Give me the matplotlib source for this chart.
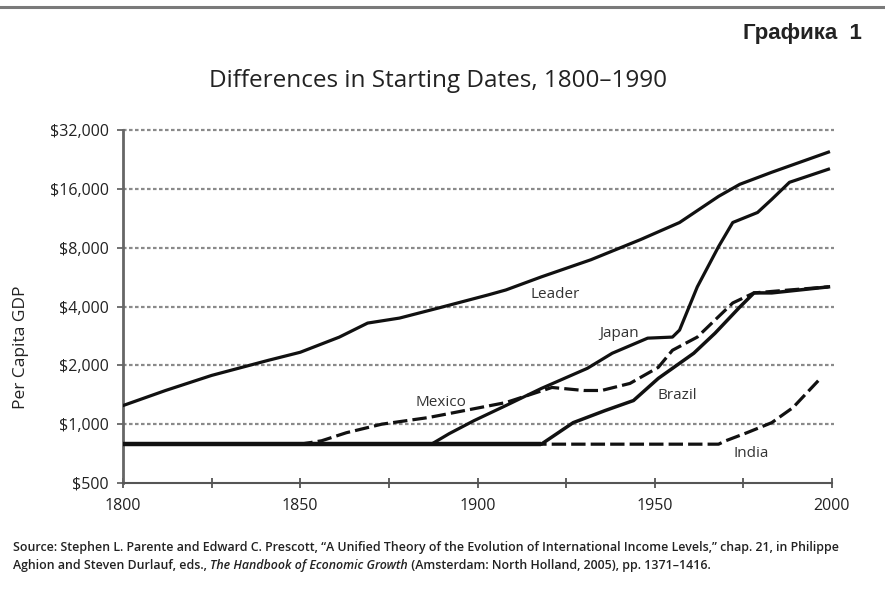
import matplotlib
matplotlib.use("Agg")
import matplotlib.pyplot as plt
from matplotlib.lines import Line2D
from matplotlib.ticker import FixedLocator, FuncFormatter

plt.rcParams['font.family'] = ['Open Sans', 'DejaVu Sans']

# values (per capita GDP, log scale)
leader_years = [1800, 1812, 1825, 1841, 1850, 1861, 1869, 1878, 1889, 1903, 1908, 1918, 1932, 1946, 1957, 1968, 1974, 1983, 1999]
leader_gdp = [1245, 1487, 1776, 2122, 2333, 2788, 3290, 3490, 3930, 4585, 4860, 5670, 6940, 8800, 10760, 14640, 16880, 19450, 24660]

japan_years = [1800, 1887, 1892, 1899, 1908, 1918, 1931, 1938, 1948, 1955, 1957, 1962, 1968, 1972, 1979, 1983, 1988, 1999]
japan_gdp = [790, 790, 894, 1042, 1245, 1523, 1931, 2306, 2755, 2790, 3030, 5040, 8100, 10760, 12110, 14130, 17280, 20160]

mexico_years = [1800, 1850, 1856, 1863, 1873, 1886, 1889, 1908, 1921, 1930, 1935, 1943, 1951, 1955, 1962, 1972, 1978, 1988, 1999]
mexico_gdp = [790, 790, 822, 904, 1000, 1080, 1106, 1290, 1541, 1487, 1487, 1616, 1953, 2389, 2790, 4170, 4695, 4860, 5040]

brazil_years = [1800, 1918, 1927, 1936, 1944, 1951, 1961, 1967, 1974, 1978, 1983, 1999]
brazil_gdp = [790, 790, 1018, 1174, 1321, 1715, 2306, 2920, 3976, 4695, 4695, 5040]

india_years = [1800, 1918, 1968, 1970, 1976, 1983, 1989, 1997]
india_gdp = [790, 790, 790, 822, 904, 1018, 1216, 1735]

y_ticks = [500, 1000, 2000, 4000, 8000, 16000, 32000]
x_major = [1800, 1850, 1900, 1950, 2000]
x_minor = [1825, 1875, 1925, 1975]

# label text and where it sits (year, value)
series_labels = ['Leader', 'Japan', 'Mexico', 'Brazil', 'India']
label_x = [1921.9, 1939.9, 1889.7, 1956.3, 1977.2]
label_y = [4582, 2894, 1297, 1394, 704]

fig = plt.figure(figsize=(8.85, 5.9), dpi=100)
ax = fig.add_axes([123/885, 1 - 483/590, (832 - 123)/885, (483 - 130)/590])

ax.set_yscale('log', base=2)
ax.set_ylim(500, 32000)
ax.set_xlim(1800, 2000)

# dotted guide lines
ax.hlines(y_ticks[1:], 1800, 2000.5, colors='#8a8a8a', linestyles=(0, (1.6, 1.1)),
          linewidth=1.6, zorder=1, clip_on=False)

lw = 2.3
ax.plot(mexico_years, mexico_gdp, color='#111', lw=lw, dashes=(4.5, 1.6), zorder=3)
ax.plot(india_years, india_gdp, color='#111', lw=lw, dashes=(4.5, 1.6), zorder=3)
ax.plot(leader_years, leader_gdp, color='#111', lw=lw, zorder=4)
ax.plot(japan_years, japan_gdp, color='#111', lw=lw, zorder=4)
ax.plot(brazil_years, brazil_gdp, color='#111', lw=2.5, zorder=4)
# common starting level is drawn heavier in the original
ax.plot(brazil_years[:2], brazil_gdp[:2], color='#111', lw=3.2, zorder=4, solid_capstyle='butt')

for s, lx, ly in zip(series_labels, label_x, label_y):
    ax.text(lx, ly, s, fontsize=11, color='#333', ha='center', va='center', zorder=5)

ax.yaxis.set_major_locator(FixedLocator(y_ticks))
ax.yaxis.set_minor_locator(FixedLocator([]))
ax.yaxis.set_major_formatter(FuncFormatter(lambda v, p: '${:,.0f}'.format(v)))
ax.xaxis.set_major_locator(FixedLocator(x_major))
ax.xaxis.set_minor_locator(FixedLocator(x_minor))

ax.tick_params(axis='y', labelsize=11.5, length=4, width=1.3, color='#666', labelcolor='#222', pad=6)
ax.tick_params(axis='x', which='both', direction='inout', length=7, width=1.3, color='#555')
ax.tick_params(axis='x', labelsize=11.5, labelcolor='#222', pad=7)

for side in ['top', 'right']:
    ax.spines[side].set_visible(False)
ax.spines['left'].set_color('#666')
ax.spines['left'].set_linewidth(2)
ax.spines['bottom'].set_color('#555')
ax.spines['bottom'].set_linewidth(1.5)

fig.text(21/885, 1 - 347/590, 'Per Capita GDP', rotation=90, fontsize=12.5,
         color='#222', ha='center', va='center')

fig.text(438/885, 1 - 81/590, 'Differences in Starting Dates, 1800\u20131990',
         fontsize=17.5, color='#222', ha='center', va='center')

fig.text(862/885, 1 - 34/590, 'Графика  1', fontsize=16, fontweight='bold',
         family=['Liberation Sans', 'DejaVu Sans'], color='#222', ha='right', va='center')

# gray rule at the top
fig.add_artist(Line2D([0, 1], [1 - 7/590, 1 - 7/590], transform=fig.transFigure,
                      color='#7a7a7a', lw=2.2))

# source note, sized so the first line runs to the right edge of the chart
src_kw = dict(color='#222', fontweight='semibold')
s1 = fig.text(13/885, 1 - 548/590,
              'Source: Stephen L. Parente and Edward C. Prescott, \u201cA Unified Theory of the Evolution of '
              'International Income Levels,\u201d chap. 21, in Philippe', va='center', fontsize=8, **src_kw)
fig.canvas.draw()
r = fig.canvas.get_renderer()
fs = 8 * (835 - 13) / s1.get_window_extent(r).width
s1.set_fontsize(fs)

t1 = fig.text(13/885, 1 - 566/590, 'Aghion and Steven Durlauf, eds., ', va='center', fontsize=fs, **src_kw)
t2 = fig.text(0, 0, 'The Handbook of Economic Growth', style='italic', fontsize=fs, **src_kw)
t3 = fig.text(0, 0, ' (Amsterdam: North Holland, 2005), pp. 1371\u20131416.', fontsize=fs, **src_kw)

fig.canvas.draw()
bb1 = t1.get_window_extent(r)
t2.set_position(fig.transFigure.inverted().transform((bb1.x1, bb1.y0)))
t2.set_va('bottom')
fig.canvas.draw()
bb2 = t2.get_window_extent(r)
t3.set_position(fig.transFigure.inverted().transform((bb2.x1, bb1.y0)))
t3.set_va('bottom')

fig.savefig('out.png', dpi=100)
